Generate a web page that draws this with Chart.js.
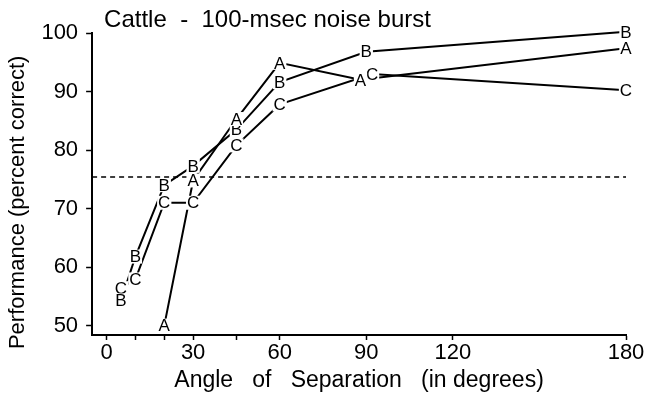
<!DOCTYPE html>
<html>
<head>
<meta charset="utf-8">
<script src="https://cdn.jsdelivr.net/npm/chart.js@4"></script>
<style>
  html, body { margin: 0; padding: 0; background: #fff; }
  #wrap { width: 649px; height: 400px; }
</style>
</head>
<body>
<div id="wrap"><canvas id="chart"></canvas></div>
<script>
// series A, B, C - angle (deg) and performance (% correct)
const angleA = [20, 30, 45, 60, 88, 180];
const perfA  = [50.0, 74.8, 85.3, 94.9, 92.0, 97.4];
const angleB = [5, 10, 20, 30, 45, 60, 90, 180];
const perfB  = [54.3, 61.8, 74.0, 77.3, 83.5, 91.6, 96.8, 100.2];
const angleC = [5, 10, 20, 30, 45, 60, 92, 180];
const perfC  = [56.4, 57.9, 71.0, 71.0, 80.8, 87.8, 93.0, 90.2];

// 75% criterion line
const criterionX = [-5, 180];
const criterionY = [75.4, 75.4];

const xTicks = [0, 10, 20, 30, 45, 60, 90, 120, 180];
const xLabels = [0, 30, 60, 90, 120, 180];
const yTicks = [50, 60, 70, 80, 90, 100];

const FONT = '"Liberation Sans", Arial, Helvetica, sans-serif';

const toPoints = (xs, ys) => xs.map((x, i) => ({ x: x, y: ys[i] }));

// draws the letter markers on top of each line
const letterMarkers = {
    id: 'letterMarkers',
    afterDatasetsDraw(chart) {
        const ctx = chart.ctx;
        ctx.save();
        ctx.font = '17px ' + FONT;
        ctx.textAlign = 'center';
        ctx.textBaseline = 'middle';
        chart.data.datasets.forEach((ds, i) => {
            if (!ds.letter) return;
            const meta = chart.getDatasetMeta(i);
            meta.data.forEach(pt => {
                const w = ctx.measureText(ds.letter).width;
                ctx.fillStyle = '#fff';
                ctx.fillRect(pt.x - w / 2 - 1, pt.y - 7, w + 2, 14);
                ctx.fillStyle = '#000';
                ctx.fillText(ds.letter, pt.x, pt.y + 1);
            });
        });
        ctx.restore();
    }
};

const titleText = {
    id: 'titleText',
    afterDraw(chart) {
        const ctx = chart.ctx;
        ctx.save();
        ctx.font = '24px ' + FONT;
        ctx.fillStyle = '#000';
        ctx.textAlign = 'left';
        ctx.textBaseline = 'middle';
        ctx.fillText('Cattle  -  100-msec noise burst', chart.chartArea.left + 12, 20);
        ctx.restore();
    }
};

const line = (letter, xs, ys) => ({
    label: letter,
    letter: letter,
    data: toPoints(xs, ys),
    showLine: true,
    borderColor: '#000',
    borderWidth: 2,
    pointRadius: 0,
    clip: false
});

new Chart(document.getElementById('chart'), {
    type: 'scatter',
    data: {
        datasets: [
            {
                label: 'criterion',
                data: toPoints(criterionX, criterionY),
                showLine: true,
                borderColor: '#000',
                borderWidth: 1.5,
                borderDash: [5, 4],
                pointRadius: 0
            },
            line('C', angleC, perfC),
            line('B', angleB, perfB),
            line('A', angleA, perfA)
        ]
    },
    options: {
        responsive: true,
        maintainAspectRatio: false,
        animation: false,
        layout: { padding: { top: 33, right: 23, bottom: 6, left: 3 } },
        plugins: {
            legend: { display: false },
            tooltip: { enabled: false }
        },
        scales: {
            x: {
                type: 'linear',
                min: -5,
                max: 180,
                afterBuildTicks: axis => { axis.ticks = xTicks.map(v => ({ value: v })); },
                grid: { drawOnChartArea: false, color: '#000', tickLength: 5, tickWidth: 1.5 },
                border: { color: '#000', width: 2 },
                ticks: {
                    color: '#000',
                    font: { family: FONT, size: 22 },
                    padding: 0,
                    maxRotation: 0,
                    autoSkip: false,
                    callback: v => xLabels.includes(v) ? String(v) : ''
                },
                title: {
                    display: true,
                    text: 'Angle   of   Separation   (in degrees)',
                    color: '#000',
                    font: { family: FONT, size: 23 },
                    padding: { top: 0, bottom: 0 }
                }
            },
            y: {
                type: 'linear',
                min: 48.4,
                max: 100,
                afterBuildTicks: axis => { axis.ticks = yTicks.map(v => ({ value: v })); },
                grid: { drawOnChartArea: false, color: '#000', tickLength: 6, tickWidth: 1.5 },
                border: { color: '#000', width: 2 },
                ticks: {
                    color: '#000',
                    font: { family: FONT, size: 22 },
                    padding: 8
                },
                title: {
                    display: true,
                    text: 'Performance (percent correct)      ',
                    color: '#000',
                    font: { family: FONT, size: 22 },
                    padding: { top: 2, bottom: 2 }
                }
            }
        }
    },
    plugins: [letterMarkers, titleText]
});
</script>
</body>
</html>
